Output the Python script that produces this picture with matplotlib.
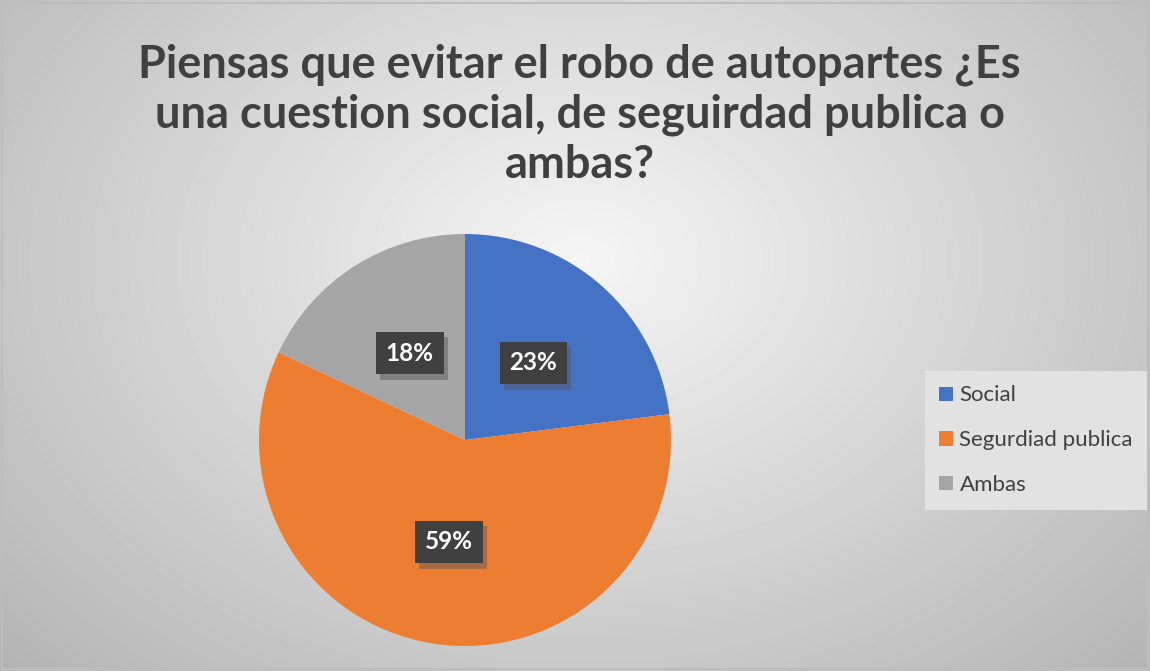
import numpy as np
import matplotlib
matplotlib.use("Agg")
import matplotlib.pyplot as plt
from matplotlib.patches import Rectangle, Patch
import matplotlib.patheffects as pe

# datos
categorias = ["Social", "Segurdiad publica", "Ambas"]
porcentajes = [23, 59, 18]
colores = ["#4472C4", "#ED7D31", "#A5A5A5"]
titulo = "Piensas que evitar el robo de autopartes ¿Es\nuna cuestion social, de seguirdad publica o\nambas?"

plt.rcParams["font.family"] = ["Lato", "DejaVu Sans"]

fig = plt.figure(figsize=(11.5, 6.71), dpi=100)

# fondo con degradado radial
bg = fig.add_axes([0, 0, 1, 1])
yy, xx = np.mgrid[0:671, 0:1150]
d = np.sqrt(((xx - 580) / 850.0) ** 2 + ((yy - 260) / 620.0) ** 2)
val = np.clip(0.96 - 0.27 * d, 0, 1)
bg.imshow(val, cmap="gray", vmin=0, vmax=1, aspect="auto", extent=[0, 1150, 671, 0])
bg.add_patch(Rectangle((1.5, 2.5), 1146, 666, fill=False, edgecolor="#bdbdbd", lw=1.5))
bg.set_xlim(0, 1150)
bg.set_ylim(671, 0)
bg.axis("off")

fig.text(0.504, 1 - 43 / 671, titulo, ha="center", va="top", fontsize=32.5, fontweight="bold",
         color="#404040", linespacing=1.24)

# pastel
r_px = 206
cx, cy = 465, 671 - 440
ax = fig.add_axes([(cx - r_px) / 1150, (cy - r_px) / 671, 2 * r_px / 1150, 2 * r_px / 671])
wedges, texts, autotexts = ax.pie(porcentajes, colors=colores, startangle=90, counterclock=False,
                                  autopct="%1.0f%%", pctdistance=0.5, radius=1,
                                  wedgeprops=dict(linewidth=0))
for t in autotexts:
    t.set_color("white")
    t.set_fontsize(17.5)
    t.set_fontweight("bold")
    t.set_bbox(dict(boxstyle="square,pad=0.4", facecolor="#404040", edgecolor="none",
                    path_effects=[pe.withSimplePatchShadow(offset=(3, -4), shadow_rgbFace="#555555", alpha=0.45)]))
ax.set_xlim(-1, 1)
ax.set_ylim(-1, 1)
ax.set_aspect("equal")

# leyenda
handles = [Patch(facecolor=c, edgecolor="none") for c in colores]
leg = fig.legend(handles, categorias, loc="upper left", bbox_to_anchor=(925 / 1150, 1 - 371 / 671),
                 frameon=True, fontsize=16, labelspacing=1.12, handlelength=0.6, handleheight=0.6,
                 handletextpad=0.3, borderpad=0.65, fancybox=False, borderaxespad=0)
leg.get_frame().set_facecolor("#e2e2e2")
leg.get_frame().set_edgecolor("none")
leg.get_frame().set_alpha(1)
for t in leg.get_texts():
    t.set_color("#404040")

fig.savefig("out.png", dpi=100)
